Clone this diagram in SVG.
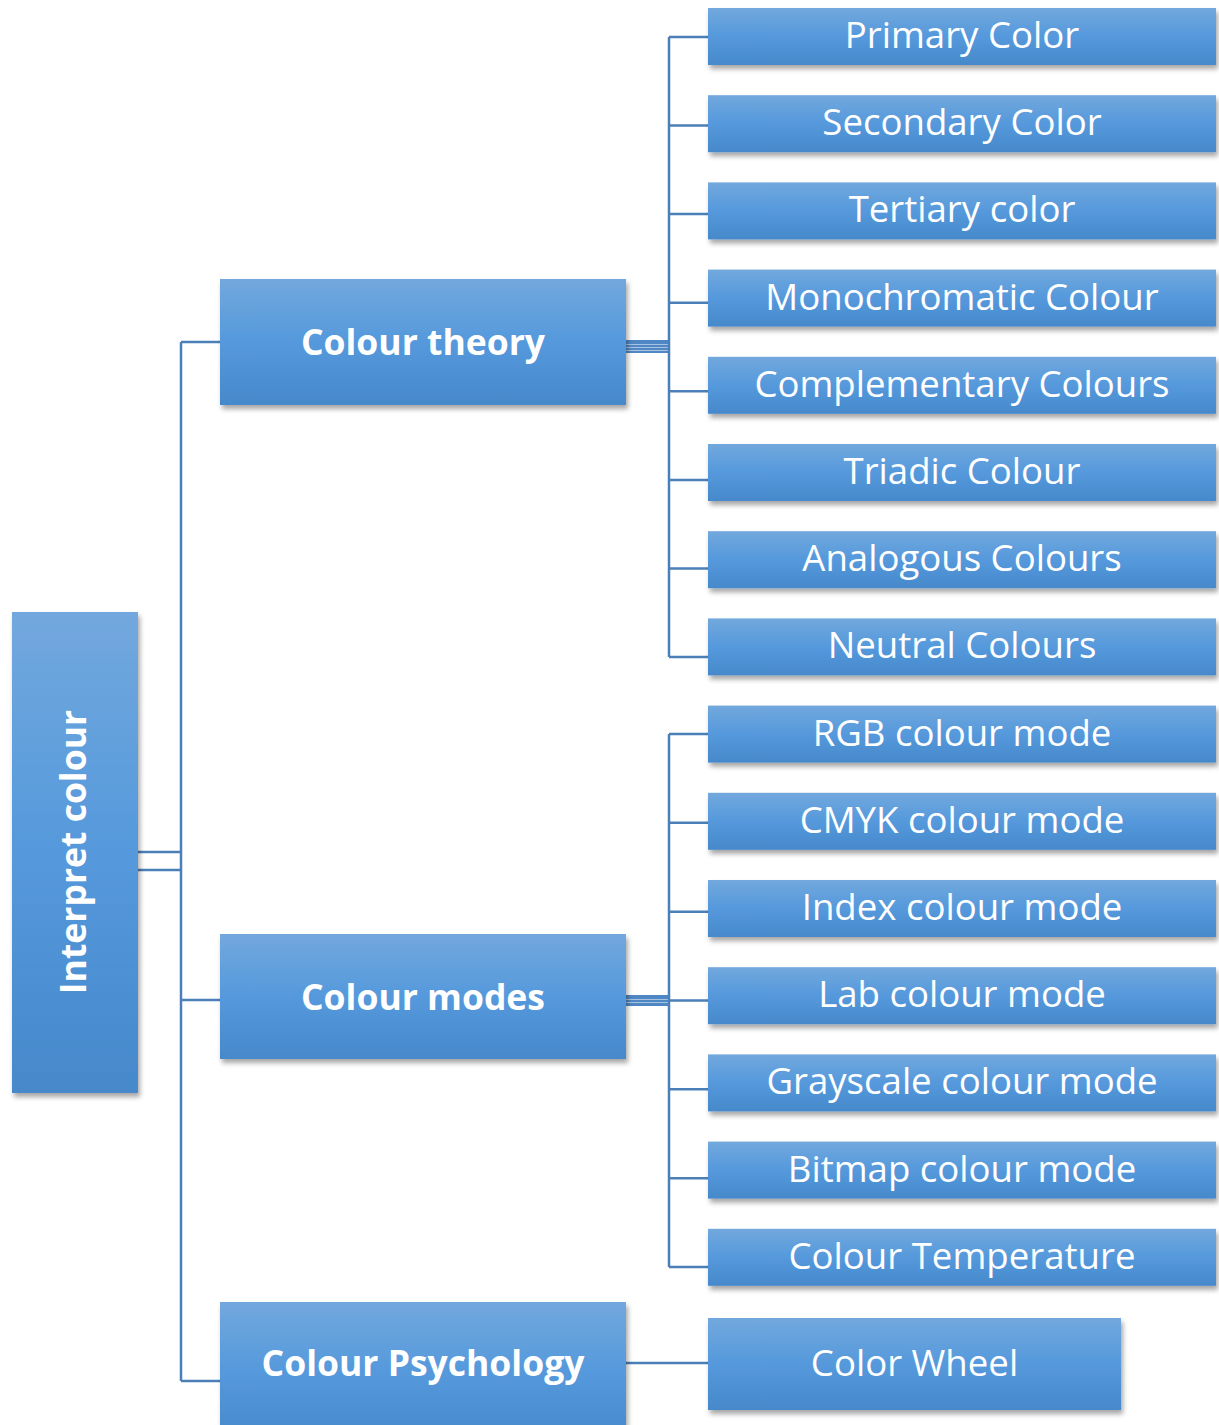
<svg xmlns="http://www.w3.org/2000/svg" width="1219" height="1425" viewBox="0 0 1219 1425">
<defs>
<linearGradient id="g" x1="0" y1="0" x2="0" y2="1">
<stop offset="0" stop-color="#72a8dd"/>
<stop offset="0.5" stop-color="#5599dc"/>
<stop offset="1" stop-color="#4689cb"/>
</linearGradient>
<filter id="sh" x="-10%" y="-10%" width="125%" height="135%">
<feDropShadow dx="2" dy="4" stdDeviation="2.5" flood-color="#000" flood-opacity="0.35"/>
</filter>
</defs>
<style>
.box{fill:url(#g);filter:url(#sh)}
.t{font-family:"Open Sans","Liberation Sans",sans-serif;font-size:36.6px;fill:#fff;text-anchor:middle}
.b{font-weight:bold;font-size:35.5px}
.c{fill:none;stroke:#4a7fb8;stroke-width:2.5}
.lt{stroke:#a9c4e2;stroke-width:1.2}
</style>
<g id="connectors">
<path class="c" d="M138 852H181M138 870H181M181 342V1381M181 342H220M181 1000H220M181 1381H220"/>
<rect x="626" y="340" width="43" height="13" fill="#4f87c4"/>
<path class="lt" d="M626 344.5H669M626 347.5H669M626 350.5H669"/>
<path class="c" d="M669 37V657M669 37H708M669 125.6H708M669 214.1H708M669 302.7H708M669 391.3H708M669 479.9H708M669 568.4H708M669 657H708"/>
<rect x="626" y="995" width="43" height="11" fill="#4f87c4"/>
<path class="lt" d="M626 999.5H669M626 1002.5H669"/>
<path class="c" d="M669 734V1267M669 734H708M669 822.8H708M669 911.7H708M669 1000.5H708M669 1089.3H708M669 1178.2H708M669 1267H708"/>
<path class="c" d="M626 1363H708"/>
</g>
<g id="root"><rect class="box" x="12" y="612" width="126" height="481"/><text class="t b" transform="translate(86,852) rotate(-90)">Interpret colour</text></g>
<g id="theory"><rect class="box" x="220" y="279" width="406" height="126"/><text class="t b" x="423" y="355">Colour theory</text></g>
<g id="modes"><rect class="box" x="220" y="934" width="406" height="125"/><text class="t b" x="423" y="1010">Colour modes</text></g>
<g id="psych"><rect class="box" x="220" y="1302" width="406" height="140"/><text class="t b" x="423" y="1376">Colour Psychology</text></g>
<g id="wheel"><rect class="box" x="708" y="1318" width="413" height="92"/><text class="t" x="914.5" y="1376">Color Wheel</text></g>
<g id="l0"><rect class="box" x="708" y="8" width="508" height="57"/><text class="t" x="962" y="48">Primary Color</text></g>
<g id="l1"><rect class="box" x="708" y="95.2" width="508" height="57"/><text class="t" x="962" y="135.2">Secondary Color</text></g>
<g id="l2"><rect class="box" x="708" y="182.4" width="508" height="57"/><text class="t" x="962" y="222.4">Tertiary color</text></g>
<g id="l3"><rect class="box" x="708" y="269.6" width="508" height="57"/><text class="t" x="962" y="309.6">Monochromatic Colour</text></g>
<g id="l4"><rect class="box" x="708" y="356.8" width="508" height="57"/><text class="t" x="962" y="396.8">Complementary Colours</text></g>
<g id="l5"><rect class="box" x="708" y="444" width="508" height="57"/><text class="t" x="962" y="484">Triadic Colour</text></g>
<g id="l6"><rect class="box" x="708" y="531.2" width="508" height="57"/><text class="t" x="962" y="571.2">Analogous Colours</text></g>
<g id="l7"><rect class="box" x="708" y="618.4" width="508" height="57"/><text class="t" x="962" y="658.4">Neutral Colours</text></g>
<g id="l8"><rect class="box" x="708" y="705.6" width="508" height="57"/><text class="t" x="962" y="745.6">RGB colour mode</text></g>
<g id="l9"><rect class="box" x="708" y="792.8" width="508" height="57"/><text class="t" x="962" y="832.8">CMYK colour mode</text></g>
<g id="l10"><rect class="box" x="708" y="880" width="508" height="57"/><text class="t" x="962" y="920">Index colour mode</text></g>
<g id="l11"><rect class="box" x="708" y="967.2" width="508" height="57"/><text class="t" x="962" y="1007.2">Lab colour mode</text></g>
<g id="l12"><rect class="box" x="708" y="1054.4" width="508" height="57"/><text class="t" x="962" y="1094.4">Grayscale colour mode</text></g>
<g id="l13"><rect class="box" x="708" y="1141.6" width="508" height="57"/><text class="t" x="962" y="1181.6">Bitmap colour mode</text></g>
<g id="l14"><rect class="box" x="708" y="1228.8" width="508" height="57"/><text class="t" x="962" y="1268.8">Colour Temperature</text></g>
</svg>
